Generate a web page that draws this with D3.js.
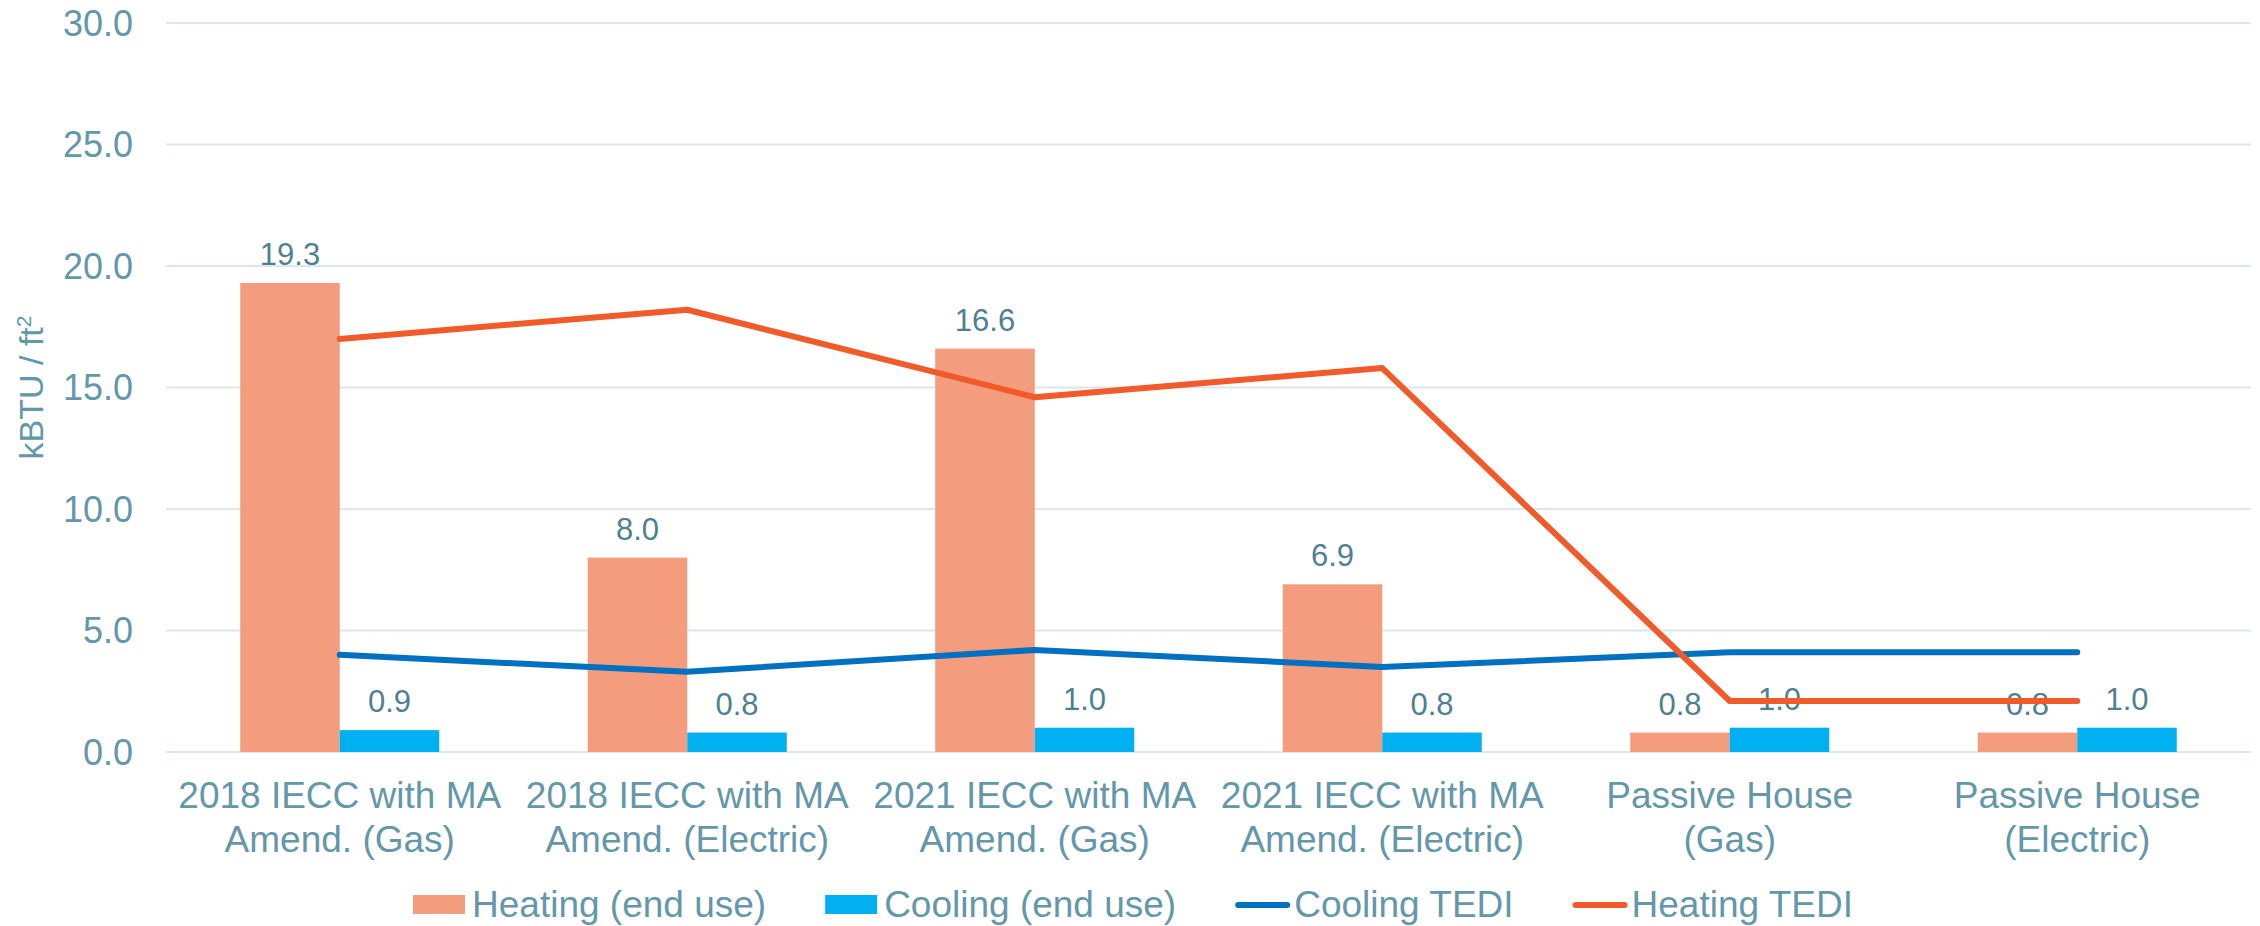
<!DOCTYPE html>
<html>
<head>
<meta charset="utf-8">
<script src="https://cdn.jsdelivr.net/npm/d3@7"></script>
<style>
  body { margin: 0; background: #fff; }
  svg { display: block; font-family: "Liberation Sans", Arial, sans-serif; }
</style>
</head>
<body>
<div id="chart"></div>
<script>
const categories = [
  ['2018 IECC with MA', 'Amend. (Gas)'],
  ['2018 IECC with MA', 'Amend. (Electric)'],
  ['2021 IECC with MA', 'Amend. (Gas)'],
  ['2021 IECC with MA', 'Amend. (Electric)'],
  ['Passive House', '(Gas)'],
  ['Passive House', '(Electric)']
];
const heatingEndUse = [19.3, 8.0, 16.6, 6.9, 0.8, 0.8];
const coolingEndUse = [0.9, 0.8, 1.0, 0.8, 1.0, 1.0];
const coolingTedi = [4.0, 3.3, 4.2, 3.5, 4.1, 4.1];
const heatingTedi = [17.0, 18.2, 14.6, 15.8, 2.1, 2.1];
const yTicks = [0, 5, 10, 15, 20, 25, 30];

const colors = {
  heating: '#F49C7E',
  cooling: '#00B0F0',
  coolLine: '#0070C0',
  heatLine: '#F15A29',
  grid: '#DCE7EB',
  text: '#6497AA',
  label: '#4F7F93'
};

const W = 2260, H = 926;
const plot = { left: 166, right: 2251, top: 23, bottom: 752 };

const svg = d3.select('#chart').append('svg')
  .attr('width', W)
  .attr('height', H);

svg.append('rect').attr('width', W).attr('height', H).attr('fill', '#fff');

const keys = d3.range(categories.length);

const x0 = d3.scaleBand()
  .domain(keys)
  .range([plot.left, plot.right])
  .padding(0);

const x1 = d3.scaleBand()
  .domain(['heat', 'cool'])
  .range([0, x0.bandwidth()])
  .paddingInner(0)
  .paddingOuter(0.746);

const y = d3.scaleLinear()
  .domain([0, 30])
  .range([plot.bottom, plot.top]);

// gridlines
svg.append('g')
  .selectAll('line')
  .data(yTicks)
  .enter()
  .append('line')
  .attr('x1', plot.left)
  .attr('x2', plot.right)
  .attr('y1', d => y(d))
  .attr('y2', d => y(d))
  .attr('stroke', colors.grid)
  .attr('stroke-width', 2);

// y axis labels
svg.append('g')
  .selectAll('text')
  .data(yTicks)
  .enter()
  .append('text')
  .attr('x', 133)
  .attr('y', d => y(d))
  .attr('dy', '0.35em')
  .attr('text-anchor', 'end')
  .style('font-size', '36px')
  .style('fill', colors.text)
  .text(d => d.toFixed(1));

// y axis title
const yTitle = svg.append('text')
  .attr('transform', `translate(43, ${(plot.top + plot.bottom) / 2}) rotate(-90)`)
  .attr('text-anchor', 'middle')
  .style('font-size', '34px')
  .style('fill', colors.text);
yTitle.append('tspan').text('kBTU / ft');
yTitle.append('tspan')
  .attr('dy', '-0.55em')
  .style('font-size', '21px')
  .text('2');

// bars
const groups = svg.append('g')
  .selectAll('g')
  .data(keys)
  .enter()
  .append('g')
  .attr('transform', i => `translate(${x0(i)},0)`);

groups.append('rect')
  .attr('x', x1('heat'))
  .attr('width', x1.bandwidth())
  .attr('y', i => y(heatingEndUse[i]))
  .attr('height', i => y(0) - y(heatingEndUse[i]))
  .attr('fill', colors.heating);

groups.append('rect')
  .attr('x', x1('cool'))
  .attr('width', x1.bandwidth())
  .attr('y', i => y(coolingEndUse[i]))
  .attr('height', i => y(0) - y(coolingEndUse[i]))
  .attr('fill', colors.cooling);

// TEDI lines at category centres
const cx = i => x0(i) + x0.bandwidth() / 2;
const line = d3.line()
  .x((d, i) => cx(i))
  .y(d => y(d));

svg.append('path')
  .datum(coolingTedi)
  .attr('d', line)
  .attr('fill', 'none')
  .attr('stroke', colors.coolLine)
  .attr('stroke-width', 6)
  .attr('stroke-linecap', 'round')
  .attr('stroke-linejoin', 'round');

svg.append('path')
  .datum(heatingTedi)
  .attr('d', line)
  .attr('fill', 'none')
  .attr('stroke', colors.heatLine)
  .attr('stroke-width', 6)
  .attr('stroke-linecap', 'round')
  .attr('stroke-linejoin', 'round');

// data labels
groups.append('text')
  .attr('x', x1('heat') + x1.bandwidth() / 2)
  .attr('y', i => y(heatingEndUse[i]) - 18)
  .attr('text-anchor', 'middle')
  .style('font-size', '31px')
  .style('fill', colors.label)
  .text(i => heatingEndUse[i].toFixed(1));

groups.append('text')
  .attr('x', x1('cool') + x1.bandwidth() / 2)
  .attr('y', i => y(coolingEndUse[i]) - 18)
  .attr('text-anchor', 'middle')
  .style('font-size', '31px')
  .style('fill', colors.label)
  .text(i => coolingEndUse[i].toFixed(1));

// category labels
const catLabels = svg.append('g')
  .selectAll('text')
  .data(keys)
  .enter()
  .append('text')
  .attr('text-anchor', 'middle')
  .style('font-size', '37px')
  .style('fill', colors.text);

catLabels.append('tspan')
  .attr('x', cx)
  .attr('y', 808)
  .text(i => categories[i][0]);
catLabels.append('tspan')
  .attr('x', cx)
  .attr('y', 852)
  .text(i => categories[i][1]);

// legend
const legendItems = [
  { label: 'Heating (end use)', color: colors.heating, type: 'rect' },
  { label: 'Cooling (end use)', color: colors.cooling, type: 'rect' },
  { label: 'Cooling TEDI', color: colors.coolLine, type: 'line' },
  { label: 'Heating TEDI', color: colors.heatLine, type: 'line' }
];

const legend = svg.append('g').attr('class', 'legend');
let lx = 0;
legendItems.forEach((d, i) => {
  const g = legend.append('g').attr('transform', `translate(${lx},0)`);
  if (d.type === 'rect') {
    g.append('rect')
      .attr('x', 0).attr('y', 895)
      .attr('width', 52).attr('height', 19)
      .attr('fill', d.color);
  } else {
    g.append('line')
      .attr('x1', 3).attr('x2', 52)
      .attr('y1', 905).attr('y2', 905)
      .attr('stroke', d.color)
      .attr('stroke-width', 6)
      .attr('stroke-linecap', 'round');
  }
  const t = g.append('text')
    .attr('x', 59)
    .attr('y', 917)
    .style('font-size', '37px')
    .style('fill', colors.text)
    .text(d.label);
  lx += 59 + t.node().getComputedTextLength() + 59;
});
const legendWidth = lx - 59;
legend.attr('transform', `translate(${(W - legendWidth) / 2 + 3},0)`);
</script>
</body>
</html>
